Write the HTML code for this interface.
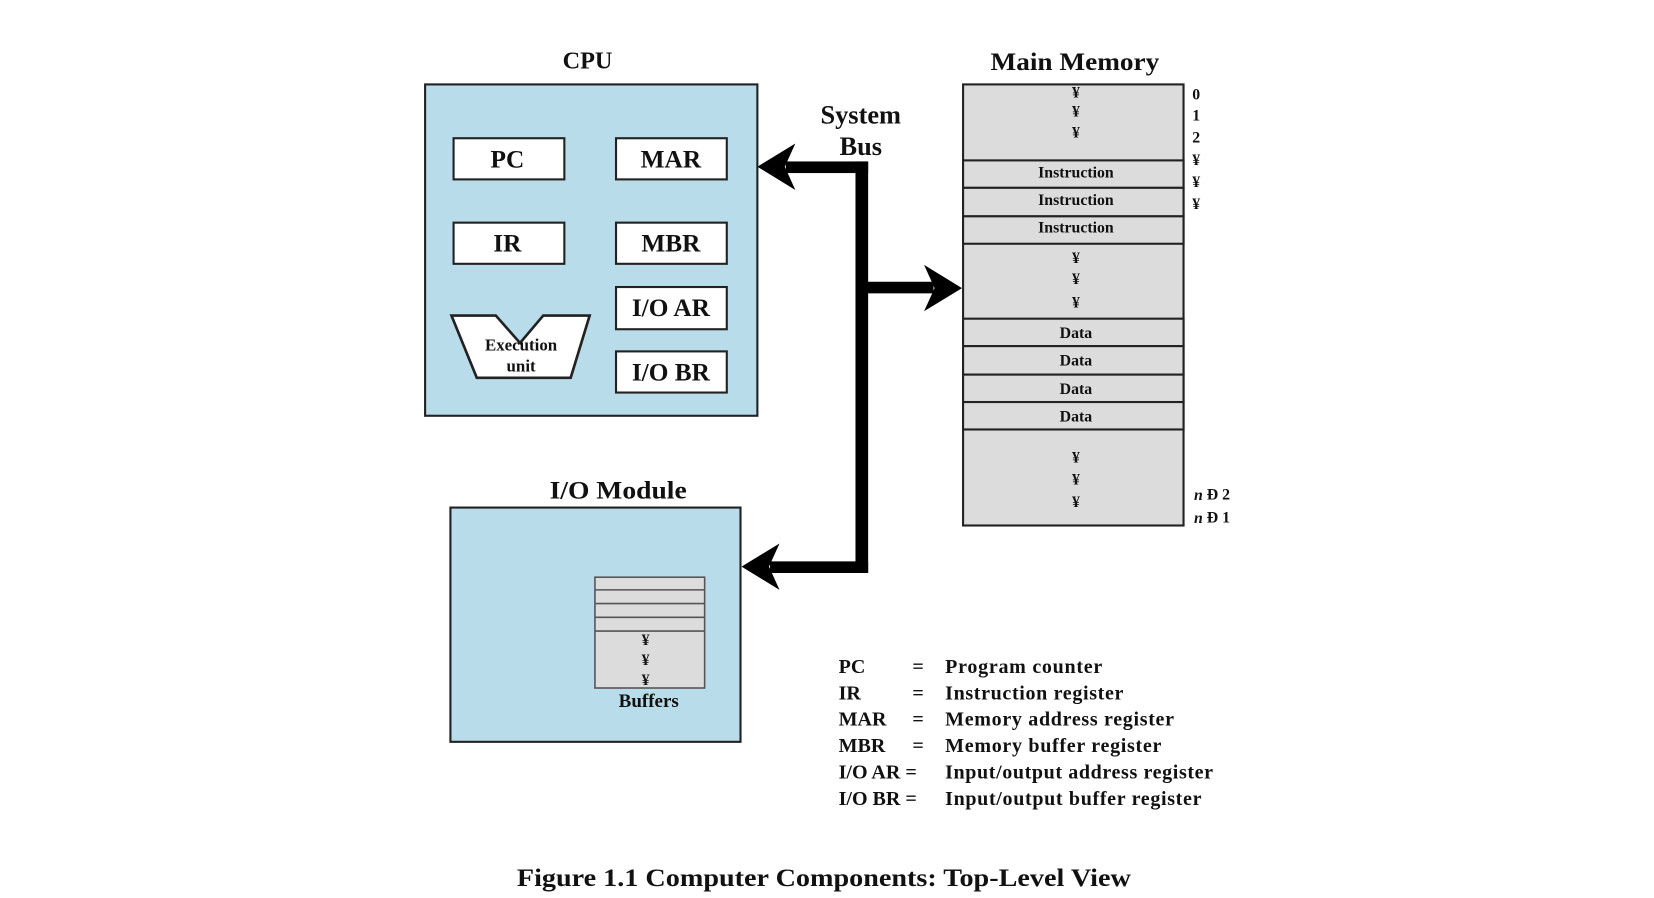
<!DOCTYPE html>
<html><head><meta charset="utf-8"><style>
html,body{margin:0;padding:0;background:#fff;width:1654px;height:898px;overflow:hidden}
svg text{font-family:"Liberation Serif",serif;font-weight:bold;fill:#111}
</style></head><body>
<svg width="1654" height="898" viewBox="0 0 1568 851" preserveAspectRatio="none" xmlns="http://www.w3.org/2000/svg">
<rect width="1568" height="851" fill="#fff"/>
<g dominant-baseline="central" text-anchor="middle">
<!-- CPU -->
<text x="557" y="58" font-size="23">CPU</text>
<rect x="403" y="80" width="315" height="314" fill="#b9dcea" stroke="#222" stroke-width="2"/>
<g fill="#fff" stroke="#222" stroke-width="2">
<rect x="430" y="131" width="105" height="39"/>
<rect x="584" y="131" width="105" height="39"/>
<rect x="430" y="211" width="105" height="39"/>
<rect x="584" y="211" width="105" height="39"/>
<rect x="584" y="272" width="105" height="40"/>
<rect x="584" y="333" width="105" height="39"/>
<polygon points="428,299 470,299 493,325 515,299 559,299 541,358 452,358" stroke-width="2.5"/>
</g>
<text x="481" y="151" font-size="24">PC</text>
<text x="636" y="151" font-size="24">MAR</text>
<text x="481" y="231" font-size="24">IR</text>
<text x="636" y="231" font-size="24">MBR</text>
<text x="636" y="292" font-size="24">I/O AR</text>
<text x="636" y="353" font-size="24">I/O BR</text>
<text x="494" y="327" font-size="16">Execution</text>
<text x="494" y="347" font-size="16">unit</text>
<!-- Bus -->
<text x="816" y="109" font-size="25">System</text>
<text x="816" y="139" font-size="25">Bus</text>
<g fill="#000">
<rect x="811" y="153" width="12" height="390"/>
<rect x="745" y="153" width="78" height="11"/>
<rect x="817" y="267" width="68" height="11"/>
<rect x="730" y="532" width="93" height="11"/>
<polygon points="718,158 754,136 744,158 754,180"/>
<polygon points="912,273 876,251 886,273 876,295"/>
<polygon points="703,537 739,515 729,537 739,559"/>
</g>
<!-- Main memory -->
<text x="1019" y="59" font-size="24" textLength="160" lengthAdjust="spacingAndGlyphs">Main Memory</text>
<g fill="#dcdcdc" stroke="#222" stroke-width="2">
<rect x="913" y="80" width="209" height="418"/>
<rect x="913" y="152" width="209" height="26"/>
<rect x="913" y="178" width="209" height="27"/>
<rect x="913" y="205" width="209" height="26"/>
<rect x="913" y="302" width="209" height="26"/>
<rect x="913" y="328" width="209" height="27"/>
<rect x="913" y="355" width="209" height="26"/>
<rect x="913" y="381" width="209" height="26"/>
</g>
<g font-size="15">
<text x="1020" y="88">¥</text><text x="1020" y="106">¥</text><text x="1020" y="126">¥</text>
<text x="1020" y="164">Instruction</text><text x="1020" y="190">Instruction</text><text x="1020" y="216">Instruction</text>
<text x="1020" y="245">¥</text><text x="1020" y="265">¥</text><text x="1020" y="287">¥</text>
<text x="1020" y="316">Data</text><text x="1020" y="342">Data</text><text x="1020" y="369">Data</text><text x="1020" y="395">Data</text>
<text x="1020" y="434">¥</text><text x="1020" y="455">¥</text><text x="1020" y="476">¥</text>
<text x="1134" y="90">0</text><text x="1134" y="110">1</text><text x="1134" y="131">2</text>
<text x="1134" y="152">¥</text><text x="1134" y="173">¥</text><text x="1134" y="194">¥</text>
<text x="1149" y="469"><tspan font-style="italic">n</tspan> Ð 2</text>
<text x="1149" y="491"><tspan font-style="italic">n</tspan> Ð 1</text>
</g>
<!-- I/O module -->
<text x="586" y="465" font-size="24" textLength="130" lengthAdjust="spacingAndGlyphs">I/O Module</text>
<rect x="427" y="481" width="275" height="222" fill="#b9dcea" stroke="#222" stroke-width="2"/>
<g fill="#dcdcdc" stroke="#555" stroke-width="1.5">
<rect x="564" y="547" width="104" height="105"/>
<line x1="564" y1="559" x2="668" y2="559"/><line x1="564" y1="572" x2="668" y2="572"/>
<line x1="564" y1="585" x2="668" y2="585"/><line x1="564" y1="598" x2="668" y2="598"/>
</g>
<g font-size="15"><text x="612" y="607">¥</text><text x="612" y="626">¥</text><text x="612" y="645">¥</text></g>
<text x="615" y="665" font-size="18">Buffers</text>
</g>
<!-- legend -->
<g dominant-baseline="central" font-size="19" lengthAdjust="spacingAndGlyphs">
<text x="795" y="632">PC</text><text x="865" y="632">=</text><text x="896" y="632" textLength="149">Program counter</text>
<text x="795" y="657">IR</text><text x="865" y="657">=</text><text x="896" y="657" textLength="169">Instruction register</text>
<text x="795" y="682">MAR</text><text x="865" y="682">=</text><text x="896" y="682" textLength="217">Memory address register</text>
<text x="795" y="707">MBR</text><text x="865" y="707">=</text><text x="896" y="707" textLength="205">Memory buffer register</text>
<text x="795" y="732">I/O AR =</text><text x="896" y="732" textLength="254">Input/output address register</text>
<text x="795" y="757">I/O BR =</text><text x="896" y="757" textLength="243">Input/output buffer register</text>
</g>
<text x="781" y="832" font-size="24" text-anchor="middle" dominant-baseline="central" textLength="582" lengthAdjust="spacingAndGlyphs">Figure 1.1  Computer Components: Top-Level View</text>
</svg>
</body></html>
